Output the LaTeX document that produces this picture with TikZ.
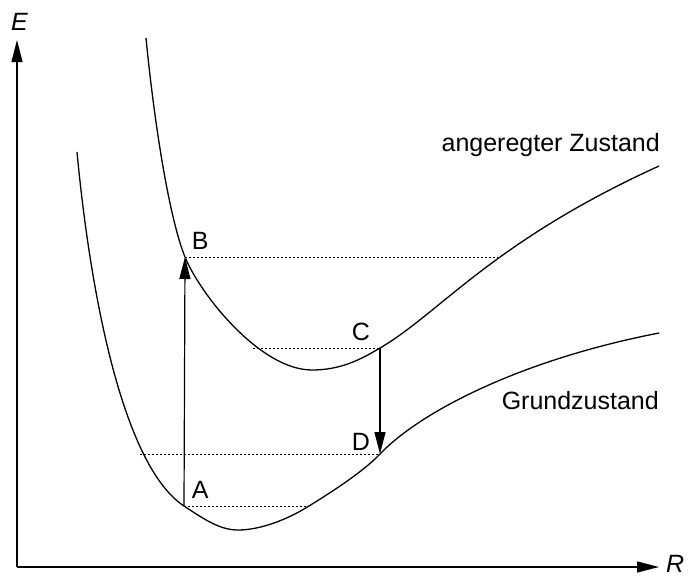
\documentclass[tikz,border=0pt]{standalone}
\usepackage{fontspec}
\setmainfont{Liberation Sans}
\usetikzlibrary{arrows.meta}
\begin{document}
\begin{tikzpicture}[x=1pt,y=-1pt,
  curve/.style={line width=1.3pt},
  level/.style={line width=1pt, dash pattern=on 2pt off 2pt},
  trans/.style={line width=1.2pt, -{Triangle[length=22pt,width=11pt]}},
  lab/.style={font=\fontsize{25}{29}\selectfont, inner sep=0pt},
]
\useasboundingbox (0,0) rectangle (690,576);
% axes
\coordinate (O) at (17,567);
\coordinate (Etop) at (17,40);
\coordinate (Rend) at (659,567);
\draw[trans] (O) -- (Etop);
\draw[trans] (O) -- (Rend);
\node[lab, anchor=base west] (E) at (11,30.7) {\itshape E};
\node[lab, anchor=base west] (R) at (666,572) {\itshape R};
% points
\coordinate (A) at (184,506);
\coordinate (B) at (185,257);
\coordinate (C) at (380,348);
\coordinate (D) at (380,454);
\coordinate (Bend) at (498,257);
\coordinate (Cstart) at (253,348);
\coordinate (Dstart) at (140,454);
\coordinate (Aend) at (309,506);
% ground state
\draw[curve] (77,152) .. controls (90,290) and (122,465) .. (A)
  .. controls (204.5,519.5) and (220,530) .. (238,530)
  .. controls (262,530) and (290,518) .. (Aend)
  .. controls (330,493) and (363,472) .. (D)
  .. controls (420,412) and (520,360) .. (659,333);
% excited state
\draw[curve] (146,38) .. controls (155,130) and (170,220) .. (B)
  .. controls (200,294) and (260,370) .. (312,370)
  .. controls (340,370) and (360,360) .. (C)
  .. controls (440,313) and (492,242) .. (659,166);
% levels
\draw[level] (B) -- (Bend);
\draw[level] (Cstart) -- (C);
\draw[level] (Dstart) -- (D);
\draw[level] (A) -- (Aend);
% transitions
\draw[trans] (A) -- (B);
\draw[trans] (C) -- (D);
% labels
\node[lab, anchor=base west] (lA) at (191.7,498) {A};
\node[lab, anchor=base west] (lB) at (191.7,249.3) {B};
\node[lab, anchor=base west] (lC) at (351.7,340.7) {C};
\node[lab, anchor=base west] (lD) at (351.7,450) {D};
\node[lab, anchor=base east] (exc) at (660,151) {angeregter Zustand};
\node[lab, anchor=base east] (gnd) at (659,409) {Grundzustand};
\end{tikzpicture}
\end{document}
